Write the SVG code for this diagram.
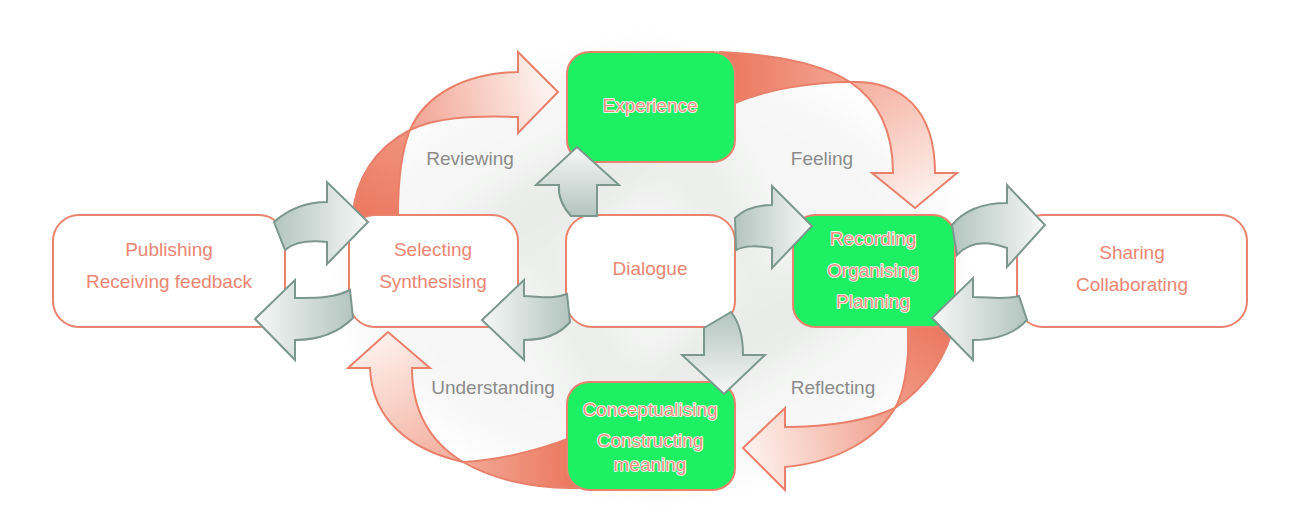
<svg xmlns="http://www.w3.org/2000/svg" width="1300" height="519" viewBox="0 0 1300 519">
<style>
.box{fill:#fff;stroke:#ea836e;stroke-width:2}
.green{fill:#1ef064;stroke:#ea836e;stroke-width:2}
.t{font-family:"Liberation Sans",Arial,sans-serif;font-size:19px;text-anchor:middle;fill:#ec8672}
.tg{font-family:"Liberation Sans",Arial,sans-serif;font-size:19px;text-anchor:middle;fill:#ee8f84;stroke:#fff;stroke-width:1.6;paint-order:stroke;stroke-linejoin:round}
.lab{font-family:"Liberation Sans",Arial,sans-serif;font-size:19px;text-anchor:middle;fill:#8b8b8b}
.red{stroke:#e9806b;stroke-width:2;stroke-linejoin:miter}
.grey{stroke:#7b978e;stroke-width:2;stroke-linejoin:miter}
</style>
<defs>
<filter id="blur" x="-50%" y="-50%" width="200%" height="200%"><feGaussianBlur stdDeviation="18"/></filter>
<linearGradient id="tlS" gradientUnits="userSpaceOnUse" x1="375" y1="215" x2="410" y2="130"><stop offset="0" stop-color="#ec7a62"/><stop offset="1" stop-color="#f0957f"/></linearGradient>
<linearGradient id="tlP" gradientUnits="userSpaceOnUse" x1="412" y1="120" x2="545" y2="90"><stop offset="0" stop-color="#f2a493"/><stop offset="1" stop-color="#fdf1ed"/></linearGradient>
<linearGradient id="trS" gradientUnits="userSpaceOnUse" x1="735" y1="80" x2="850" y2="82"><stop offset="0" stop-color="#ec7a62"/><stop offset="1" stop-color="#f3a693"/></linearGradient>
<linearGradient id="trP" gradientUnits="userSpaceOnUse" x1="860" y1="90" x2="915" y2="200"><stop offset="0" stop-color="#f5b3a3"/><stop offset="1" stop-color="#fdefeb"/></linearGradient>
<linearGradient id="brS" gradientUnits="userSpaceOnUse" x1="935" y1="330" x2="895" y2="408"><stop offset="0" stop-color="#ec7a62"/><stop offset="1" stop-color="#f19b87"/></linearGradient>
<linearGradient id="brP" gradientUnits="userSpaceOnUse" x1="890" y1="420" x2="750" y2="450"><stop offset="0" stop-color="#f1a08d"/><stop offset="1" stop-color="#fdf0ec"/></linearGradient>
<linearGradient id="blP" gradientUnits="userSpaceOnUse" x1="440" y1="455" x2="388" y2="340"><stop offset="0" stop-color="#f4b2a2"/><stop offset="1" stop-color="#fdeee9"/></linearGradient>
<linearGradient id="blS" gradientUnits="userSpaceOnUse" x1="465" y1="462" x2="567" y2="460"><stop offset="0" stop-color="#f3a895"/><stop offset="1" stop-color="#ec7a62"/></linearGradient>
<linearGradient id="gR" x1="0" y1="0" x2="1" y2="0"><stop offset="0" stop-color="#b3c5bf"/><stop offset="1" stop-color="#f6f8f7"/></linearGradient>
<linearGradient id="gL" x1="1" y1="0" x2="0" y2="0"><stop offset="0" stop-color="#b3c5bf"/><stop offset="1" stop-color="#f6f8f7"/></linearGradient>
<linearGradient id="gU" x1="0" y1="1" x2="0" y2="0"><stop offset="0" stop-color="#b3c5bf"/><stop offset="1" stop-color="#f6f8f7"/></linearGradient>
<linearGradient id="gD" x1="0" y1="0" x2="0" y2="1"><stop offset="0" stop-color="#b3c5bf"/><stop offset="1" stop-color="#f6f8f7"/></linearGradient>
</defs>

<g id="background" filter="url(#blur)" opacity="0.55">
<ellipse cx="650" cy="270" rx="300" ry="210" fill="#eef0ee"/>
<ellipse cx="560" cy="200" rx="150" ry="40" fill="#d9ddd9" transform="rotate(-30 560 200)"/>
<ellipse cx="760" cy="330" rx="150" ry="40" fill="#d9ddd9" transform="rotate(-30 760 330)"/>
<ellipse cx="700" cy="180" rx="140" ry="35" fill="#dde1dd" transform="rotate(60 700 180)"/>
<ellipse cx="600" cy="360" rx="140" ry="35" fill="#dde1dd" transform="rotate(60 600 360)"/>
</g>

<g id="connectors-back">
<path class="red" fill="url(#tlS)" d="M353 222 L353 215 C355 180,375 148,410 130 C402 150,398 180,398 215 L398 222 Z"/>
<path class="red" fill="url(#tlP)" d="M410 130 C425 95,465 73,518 72 L518 52 L558 92 L518 133 L518 117 C470 115,435 118,410 130 Z"/>
<path class="red" fill="url(#trS)" d="M720 52 C780 55,825 66,850 82 C810 82,765 90,735 103 L720 103 Z"/>
<path class="red" fill="url(#trP)" d="M850 82 C902 80,935 110,935 173 L957 173 L915 208 L872 173 L893 173 C893 130,877 100,850 82 Z"/>
<path class="red" fill="url(#brS)" d="M908 320 L908 353 C906 380,902 396,895 408 C922 390,946 362,956 318 Z"/>
<path class="red" fill="url(#brP)" d="M895 408 C870 420,830 427,785 427 L785 408 L743 448 L785 490 L785 467 C840 462,878 437,895 408 Z"/>
<path class="red" fill="url(#blP)" d="M463 462 C410 450,372 420,370 368 L348 368 L388 332 L430 368 L412 368 C412 410,430 442,463 462 Z"/>
<path class="red" fill="url(#blS)" d="M463 462 C500 460,540 450,570 438 L580 438 L580 488 L570 488 C530 488,490 478,463 462 Z"/>
</g>

<g id="node-publishing">
<rect class="box" x="53" y="215" width="232" height="112" rx="26"/>
<text class="t" x="169" y="256">Publishing</text>
<text class="t" x="169" y="288">Receiving feedback</text>
</g>
<g id="node-selecting">
<rect class="box" x="349" y="215" width="169" height="112" rx="26"/>
<text class="t" x="433" y="256">Selecting</text>
<text class="t" x="433" y="288">Synthesising</text>
</g>
<g id="node-dialogue">
<rect class="box" x="566" y="215" width="169" height="112" rx="26"/>
<text class="t" x="650" y="275">Dialogue</text>
</g>
<g id="node-experience">
<rect class="green" x="567" y="52" width="168" height="110" rx="22"/>
<text class="tg" x="650" y="112">Experience</text>
</g>
<g id="node-recording">
<rect class="green" x="793" y="215" width="162" height="112" rx="22"/>
<text class="tg" x="873" y="245">Recording</text>
<text class="tg" x="873" y="277">Organising</text>
<text class="tg" x="873" y="308">Planning</text>
</g>
<g id="node-sharing">
<rect class="box" x="1017" y="215" width="230" height="112" rx="26"/>
<text class="t" x="1132" y="259">Sharing</text>
<text class="t" x="1132" y="291">Collaborating</text>
</g>
<g id="node-conceptualising">
<rect class="green" x="567" y="382" width="168" height="108" rx="22"/>
<text class="tg" x="650" y="416">Conceptualising</text>
<text class="tg" x="650" y="447">Constructing</text>
<text class="tg" x="650" y="471">meaning</text>
</g>

<g id="labels">
<text class="lab" x="470" y="165">Reviewing</text>
<text class="lab" x="822" y="165">Feeling</text>
<text class="lab" x="493" y="394">Understanding</text>
<text class="lab" x="833" y="394">Reflecting</text>
</g>

<g id="connectors">
<path class="grey" fill="url(#gR)" d="M274 222 C292 206,310 202,327 202 L327 182 L368 222 L327 264 L327 242 C308 240,294 242,285 250 Z"/>
<path class="grey" fill="url(#gL)" d="M350 290 C332 299,312 298,295 298 L295 280 L255 319 L295 360 L295 340 C322 340,340 331,353 318 Z"/>
<path class="grey" fill="url(#gL)" d="M567 294 C552 300,538 296,524 296 L524 280 L482 320 L524 360 L524 340 C546 340,560 334,570 322 Z"/>
<path class="grey" fill="url(#gU)" d="M571 216 C561 205,558 195,559 185 L536 185 L577 147 L619 185 L597 185 L597 216 Z"/>
<path class="grey" fill="url(#gR)" d="M735 218 C745 208,757 205,772 205 L772 186 L812 226 L772 268 L772 248 C758 246,746 245,736 250 Z"/>
<path class="grey" fill="url(#gD)" d="M704 328 L704 355 L682 355 L724 394 L765 355 L743 355 C743 336,739 322,731 312 Z"/>
<path class="grey" fill="url(#gR)" d="M952 225 C966 208,985 203,1007 203 L1007 185 L1045 225 L1007 267 L1007 248 C986 240,969 242,957 255 Z"/>
<path class="grey" fill="url(#gL)" d="M1019 296 C1004 300,990 297,973 297 L973 278 L932 318 L973 360 L973 340 C996 340,1015 333,1027 320 Z"/>
</g>
</svg>
